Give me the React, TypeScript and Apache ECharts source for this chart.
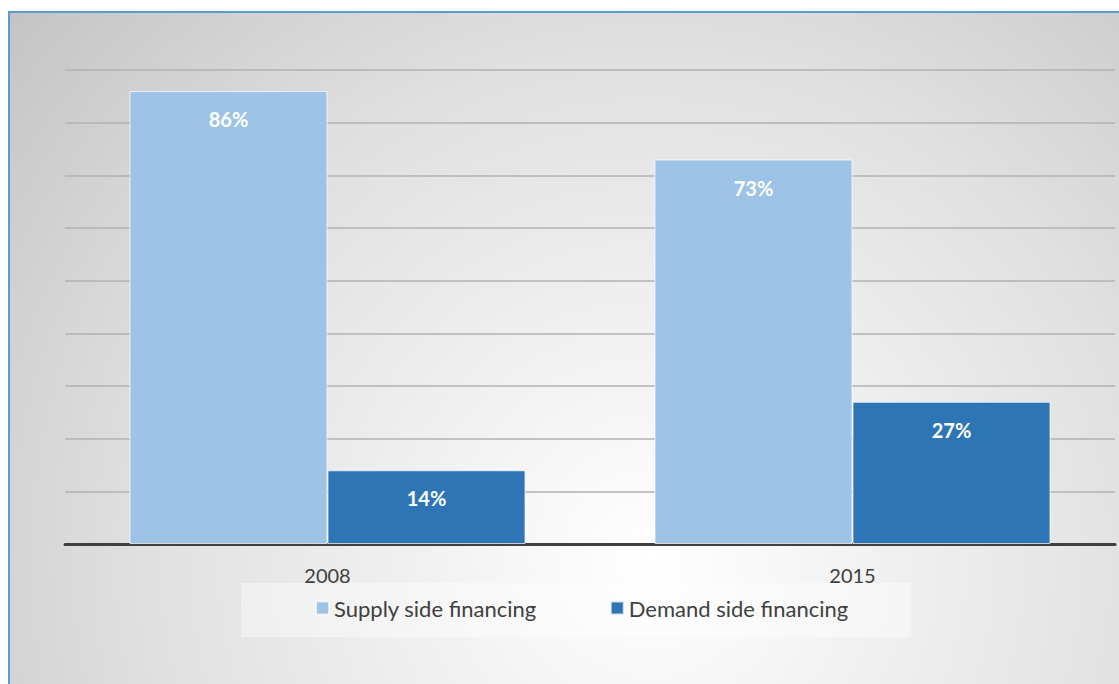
import React, { useEffect, useRef } from "react";
import * as echarts from "echarts";

const categories = ["2008", "2015"];
const supplySide = [86, 73];
const demandSide = [14, 27];
const seriesNames = ["Supply side financing", "Demand side financing"];

const FONT = "Lato, 'Open Sans', sans-serif";

export default function App() {
  const ref = useRef<HTMLDivElement>(null);
  useEffect(() => {
    if (!ref.current) return;
    const chart = echarts.init(ref.current, null, { renderer: "svg" });
    const label = {
      show: true,
      position: "insideTop",
      distance: 18,
      color: "#ffffff",
      fontSize: 20,
      fontWeight: "bold",
      fontFamily: FONT,
      formatter: (p: any) => p.value + "%",
    };
    chart.setOption({
      animation: false,
      backgroundColor: "transparent",
      textStyle: { fontFamily: FONT },
      grid: { left: 55, right: 10, top: 57, bottom: 144, containLabel: false },
      legend: {
        left: 231,
        top: 570,
        orient: "horizontal",
        backgroundColor: "rgba(255,255,255,0.4)",
        padding: [14, 63, 18, 74],
        itemWidth: 13,
        itemHeight: 13,
        itemGap: 73,
        icon: "rect",
        textStyle: { color: "#404040", fontSize: 22, fontFamily: FONT, padding: [0, 0, 0, 0] },
        data: seriesNames,
      },
      xAxis: {
        type: "category",
        data: categories,
        axisLine: { show: true, lineStyle: { color: "#404040", width: 3 } },
        axisTick: { show: false },
        axisLabel: { color: "#404040", fontSize: 20, fontFamily: FONT, margin: 21 },
      },
      yAxis: {
        type: "value",
        min: 0,
        max: 90,
        interval: 10,
        axisLabel: { show: false },
        axisLine: { show: false },
        axisTick: { show: false },
        splitLine: { lineStyle: { color: "#b2b2b2", width: 1.5 } },
      },
      series: [
        {
          name: seriesNames[0],
          type: "bar",
          data: supplySide,
          barWidth: 198,
          barGap: "0%",
          itemStyle: { color: "#9dc3e6", borderColor: "rgba(255,255,255,0.7)", borderWidth: 1 },
          label,
        },
        {
          name: seriesNames[1],
          type: "bar",
          data: demandSide,
          barWidth: 198,
          barGap: "0%",
          itemStyle: { color: "#2e75b6", borderColor: "rgba(255,255,255,0.7)", borderWidth: 1 },
          label,
        },
      ],
    });
    return () => chart.dispose();
  }, []);
  return (
    <div style={{ position: "fixed", left: 0, top: 0, width: 1119, height: 684, overflow: "hidden", background: "#ffffff" }}>
      <div
        style={{
          position: "absolute",
          left: 8,
          top: 11,
          borderLeft: "2px solid #5b9bd5",
          borderTop: "2px solid #5b9bd5",
          width: 1115,
          height: 675,
          background:
            "radial-gradient(circle farthest-corner at 57.4% 81%, #ffffff 0%, #f2f2f2 25%, #e0e0e0 60%, #c4c4c4 100%)",
        }}
      >
        <div ref={ref} style={{ width: 1115, height: 675 }} />
      </div>
    </div>
  );
}
